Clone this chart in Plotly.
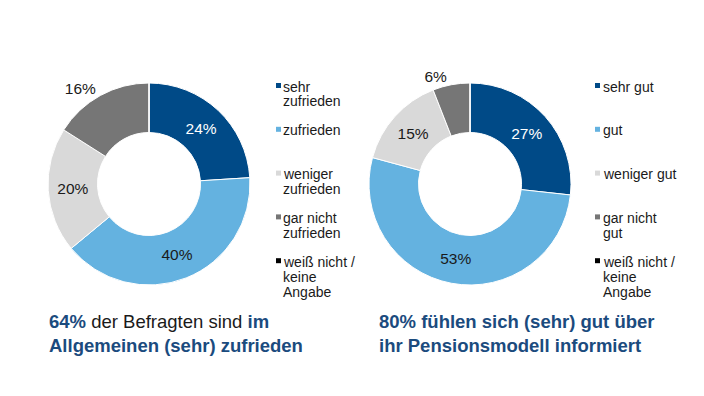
import plotly.graph_objects as go

# ---- data ----
left_categories = ["sehr<br>zufrieden", "zufrieden", "weniger<br>zufrieden",
                   "gar nicht<br>zufrieden", "weiß nicht /<br>keine<br>Angabe"]
left_values = [24, 40, 20, 16, 0]
right_categories = ["sehr gut", "gut", "weniger gut",
                    "gar nicht<br>gut", "weiß nicht /<br>keine<br>Angabe"]
right_values = [27, 53, 15, 6, 0]
text_positions = ["inside", "inside", "inside", "outside", "none"]

# ---- style ----
PAGE_OFFSET = 8            # default body margin of the html page
W, H = 704 - 2 * PAGE_OFFSET, 396 - 2 * PAGE_OFFSET
slice_colors = ["#004A87", "#64B2E0", "#D9D9D9", "#767676", "#000000"]
label_colors = ["#FFFFFF", "#1A1A1A", "#1A1A1A", "#1A1A1A", "#1A1A1A"]
title_blue = "#1B4B7E"
text_dark = "#1A1A1A"
FONT = "Liberation Sans, Arial, sans-serif"


def px_x(x):
    return (x - PAGE_OFFSET) / W


def px_y(y):
    return 1 - (y - PAGE_OFFSET) / H


def pie(values, categories, cx, cy, r):
    return go.Pie(
        labels=[c.replace("<br>", " ") for c in categories],
        values=values,
        sort=False,
        direction="clockwise",
        rotation=0,
        hole=0.51,
        marker=dict(colors=slice_colors, line=dict(color="white", width=1)),
        texttemplate=["%{value}%" if v > 0 else "" for v in values],
        textposition=text_positions,
        insidetextorientation="horizontal",
        textfont=dict(family=FONT, size=15.5, color=label_colors),
        outsidetextfont=dict(family=FONT, size=15.5, color=text_dark),
        domain=dict(x=[px_x(cx - r), px_x(cx + r)], y=[px_y(cy + r), px_y(cy - r)]),
        showlegend=False,
        hoverinfo="label+value",
    )


fig = go.Figure()
fig.add_trace(pie(left_values, left_categories, 149, 184, 101))
fig.add_trace(pie(right_values, right_categories, 470, 184, 101))

shapes = []
annotations = []
LINE_H = 15


def add_legend(categories, mx, tx, y0, step):
    for i, cat in enumerate(categories):
        yc = y0 + step * i
        shapes.append(dict(type="rect", xref="paper", yref="paper",
                           x0=px_x(mx), x1=px_x(mx + 5),
                           y0=px_y(yc + 2.5), y1=px_y(yc - 2.5),
                           fillcolor=slice_colors[i], line=dict(width=0)))
        for j, line in enumerate(cat.split("<br>")):
            annotations.append(dict(xref="paper", yref="paper",
                                    x=px_x(tx), y=px_y(yc + 1 + LINE_H * j),
                                    xanchor="left", yanchor="middle",
                                    text=line, showarrow=False,
                                    font=dict(family=FONT, size=14, color=text_dark)))


add_legend(left_categories, 276, 281, 85.5, 43.8)
add_legend(right_categories, 595, 601, 85.5, 43.8)

left_share = left_values[0] + left_values[1]
right_share = right_values[0] + right_values[1]


def blue(t):
    return f"<span style='color:{title_blue}'><b>{t}</b></span>"


left_title = (blue(f"{left_share}%") + " der Befragten sind " + blue("im")
              + "<br>" + blue("Allgemeinen (sehr) zufrieden"))
right_title = (blue(f"{right_share}% fühlen sich (sehr) gut über")
               + "<br>" + blue("ihr Pensionsmodell informiert"))

for x, t in [(47, left_title), (377, right_title)]:
    annotations.append(dict(xref="paper", yref="paper", x=px_x(x), y=px_y(309),
                            xanchor="left", yanchor="top", align="left",
                            text=t, showarrow=False,
                            font=dict(family=FONT, size=18.5, color=text_dark)))

fig.update_layout(
    width=W, height=H,
    margin=dict(l=0, r=0, t=0, b=0),
    paper_bgcolor="white", plot_bgcolor="white",
    shapes=shapes, annotations=annotations,
    font=dict(family=FONT),
)

fig.write_html("out.html")
